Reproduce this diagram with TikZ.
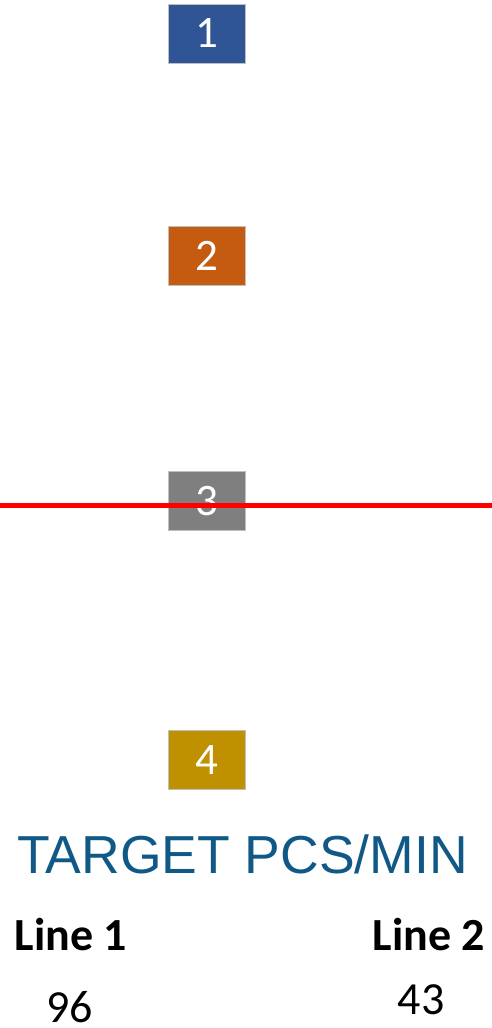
\documentclass[tikz,border=0pt]{standalone}
\usepackage{fontspec}
\setmainfont{Carlito}
\newfontfamily\arialf{Liberation Sans}
\definecolor{bBlue}{RGB}{47,85,151}
\definecolor{bOrange}{RGB}{197,90,17}
\definecolor{bGray}{RGB}{127,127,127}
\definecolor{bGold}{RGB}{191,144,0}
\definecolor{tBlue}{RGB}{16,89,135}
\tikzset{
  numbox/.style={minimum width=77pt, minimum height=59pt, inner sep=0pt, draw=white!75!black, line width=0.6pt, text=white, font=\fontsize{45}{50}\selectfont},
  lbl/.style={anchor=base, inner sep=0pt, font=\bfseries\fontsize{46}{52}\selectfont},
  val/.style={anchor=base, inner sep=0pt, text depth=0pt, font=\fontsize{46}{52}\selectfont},
}
\begin{document}
\begin{tikzpicture}[x=1pt,y=-1pt]
\useasboundingbox (0,0) rectangle (492,1028);
\node[numbox, fill=bBlue] (b1) at (206.5,33.5) {1};
\node[numbox, fill=bOrange] (b2) at (206.5,255.5) {2};
\node[numbox, fill=bGray] (b3) at (206.5,501) {3};
\node[numbox, fill=bGold] (b4) at (206.5,760) {4};
\coordinate (rl) at (0,505.7);
\coordinate (rr) at (492,505.7);
\draw[red, line width=5.5pt] (rl) -- (rr);
\node[anchor=base, inner sep=0pt, text=tBlue, font=\arialf\fontsize{53.5}{60}\selectfont] (title) at (242.5,873) {TARGET PCS/MIN};
\node[lbl] (l1) at (71,950) {Line 1};
\node[lbl] (l2) at (429,950) {Line 2};
\node[val] (v1) at (69.5,1022.5) {96};
\node[val] (v2) at (421,1014) {43};
\end{tikzpicture}
\end{document}
